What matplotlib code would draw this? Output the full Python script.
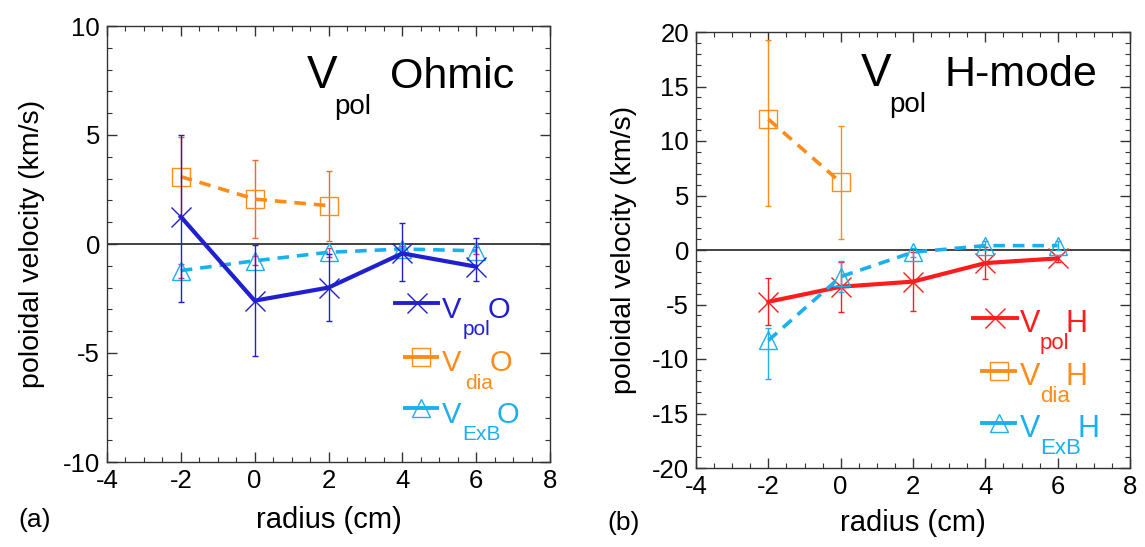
import matplotlib
matplotlib.use("Agg")
import matplotlib.pyplot as plt
from matplotlib.ticker import MultipleLocator

plt.rcParams['font.family'] = ['Liberation Sans', 'DejaVu Sans']
plt.rcParams['axes.unicode_minus'] = False

# radial positions (cm)
radius = [-2, 0, 2, 4, 6]
radius_dia = [-2, 0, 2]
radius_dia_h = [-2, 0]

# Ohmic discharge (km/s)
vpol_o = [1.25, -2.6, -2.0, -0.43, -1.04]
vpol_o_lo = [3.9, 2.55, 1.53, 1.25, 0.64]
vpol_o_hi = [3.75, 2.55, 1.53, 1.38, 1.3]
vdia_o = [3.09, 2.06, 1.76]
vdia_o_err = [1.83, 1.8, 1.6]
vexb_o = [-1.22, -0.77, -0.38, -0.23, -0.31]
vexb_o_err = [0.32, 0.2, 0.2, 0.15, 0.15]

# H-mode discharge (km/s)
vpol_h = [-4.75, -3.37, -2.9, -1.2, -0.77]
vpol_h_err = [2.15, 2.3, 2.7, 1.45, 0.3]
vdia_h = [12.0, 6.2]
vdia_h_lo = [8.0, 5.2]
vdia_h_hi = [7.3, 5.2]
vexb_h = [-8.3, -2.45, -0.2, 0.4, 0.4]
vexb_h_lo = [3.5, 1.4, 0.4, 0.4, 0.4]
vexb_h_hi = [1.1, 1.4, 0.4, 0.4, 0.4]

BLUE = '#2020d0'
ORANGE = '#ff8c1a'
ORANGE_ERR = '#ee6a2a'
CYAN = '#1ab0ee'
MAGENTA = '#e0307f'
RED = '#ff1c1c'
DASH = (0, (3.2, 2.2))

W, H = 1145, 547
fig = plt.figure(figsize=(W / 100, H / 100), dpi=100)


def px_axes(x0, x1, ytop, ybot):
    return fig.add_axes([x0 / W, 1 - ybot / H, (x1 - x0) / W, (ybot - ytop) / H])


ax1 = px_axes(107, 550, 26, 462)
ax2 = px_axes(696, 1130, 32, 468)


def style(ax, ylim, ymajor):
    ax.set_xlim(-4, 8)
    ax.set_ylim(*ylim)
    ax.xaxis.set_major_locator(MultipleLocator(2))
    ax.xaxis.set_minor_locator(MultipleLocator(0.5))
    ax.yaxis.set_major_locator(MultipleLocator(ymajor))
    ax.yaxis.set_minor_locator(MultipleLocator(1))
    ax.tick_params(which='both', direction='in', top=True, right=True,
                   color='#333333', labelsize=18.5, pad=5)
    ax.tick_params(which='major', length=7, width=1)
    ax.tick_params(which='minor', length=3.5, width=0.8)
    for s in ax.spines.values():
        s.set_color('#333333')
        s.set_linewidth(1)
    ax.axhline(0, color='#222222', lw=1.2, zorder=1)
    ax.set_xlabel('radius (cm)', fontsize=21)
    ax.set_ylabel('poloidal velocity (km/s)', fontsize=20.5)


style(ax1, (-10, 10), 5)
style(ax2, (-20, 20), 5)
ax1.xaxis.set_label_coords(0.5, -0.10)
ax2.xaxis.set_label_coords(0.5, -0.095)
ax1.yaxis.set_label_coords(-0.14, 0.5)
ax2.yaxis.set_label_coords(-0.135, 0.5)

MS_X, MS_SQ, MS_TRI = 14, 12.5, 12.5

# ---- panel (a): Ohmic ----
ax1.errorbar(radius_dia, vdia_o, yerr=vdia_o_err, color=ORANGE, ls=DASH, lw=2.6,
             marker='s', ms=MS_SQ, mfc='none', mew=1, ecolor=ORANGE_ERR,
             elinewidth=1, capsize=2.5, zorder=3)
ax1.errorbar(radius, vexb_o, yerr=vexb_o_err, color=CYAN, ls=DASH, lw=2.6,
             marker='^', ms=MS_TRI, mfc='none', mew=1, ecolor=MAGENTA,
             elinewidth=1, capsize=2.5, zorder=4)
ax1.errorbar(radius, vpol_o, yerr=[vpol_o_lo, vpol_o_hi], color=BLUE, ls='-', lw=3,
             marker='x', ms=MS_X, mew=1, ecolor=BLUE,
             elinewidth=1, capsize=2.5, zorder=5)

# ---- panel (b): H-mode ----
ax2.errorbar(radius_dia_h, vdia_h, yerr=[vdia_h_lo, vdia_h_hi], color=ORANGE, ls=DASH,
             lw=2.6, marker='s', ms=MS_SQ, mfc='none', mew=1, ecolor=ORANGE,
             elinewidth=1, capsize=2.5, zorder=3)
ax2.errorbar(radius, vpol_h, yerr=vpol_h_err, color=RED, ls='-', lw=3,
             marker='x', ms=MS_X, mew=1, ecolor=RED,
             elinewidth=1, capsize=2.5, zorder=4)
ax2.errorbar(radius, vexb_h, yerr=[vexb_h_lo, vexb_h_hi], color=CYAN, ls=DASH, lw=2.6,
             marker='^', ms=MS_TRI, mfc='none', mew=1, ecolor=CYAN,
             elinewidth=1, capsize=2.5, zorder=5)


def ftext(x, y, s, size, color='black', **kw):
    fig.text(x / W, 1 - y / H, s, fontsize=size, color=color, va='baseline', ha='left', **kw)


# panel titles
ftext(307, 88, 'V', 33)
ftext(334, 114, 'pol', 20)
ftext(390, 88, 'Ohmic', 31)
ftext(861, 86, 'V', 33)
ftext(889, 112, 'pol', 20)
ftext(945, 86, 'H-mode', 31)


def legend_row(x0, x1, y, color, marker, ms, vx, vy, sub, sx, sy, tail, tx, big, small):
    xm = (x0 + x1) / 2
    fig.add_artist(plt.Line2D([x0 / W, x1 / W], [1 - y / H] * 2, color=color, ls='-',
                              lw=2.8, transform=fig.transFigure))
    fig.add_artist(plt.Line2D([xm / W], [1 - y / H], color=color, marker=marker, ms=ms,
                              mfc='none', mew=1, transform=fig.transFigure))
    ftext(vx, vy, 'V', big, color)
    ftext(sx, sy, sub, small, color)
    ftext(tx, vy, tail, big, color)


# legends, panel (a)
legend_row(395, 438, 303, BLUE, 'x', MS_X, 442, 318, 'pol', 463, 335, 'O', 488, 21, 15)
legend_row(405, 437, 357, ORANGE, 's', MS_SQ, 442, 371, 'dia', 465, 389, 'O', 490, 21, 15)
legend_row(405, 437, 408, CYAN, '^', MS_TRI, 442, 423, 'ExB', 462, 440, 'O', 497, 21, 15)

# legends, panel (b)
legend_row(973, 1017, 318, RED, 'x', MS_X, 1020, 332, 'pol', 1040, 349, 'H', 1066, 22, 16)
legend_row(982, 1015, 371, ORANGE, 's', MS_SQ, 1020, 385, 'dia', 1040, 402, 'H', 1066, 22, 16)
legend_row(982, 1015, 423, CYAN, '^', MS_TRI, 1020, 437, 'ExB', 1040, 454, 'H', 1077, 22, 16)

ftext(18, 527, '(a)', 19)
ftext(607, 530, '(b)', 19)

fig.savefig('out.png', dpi=100)
